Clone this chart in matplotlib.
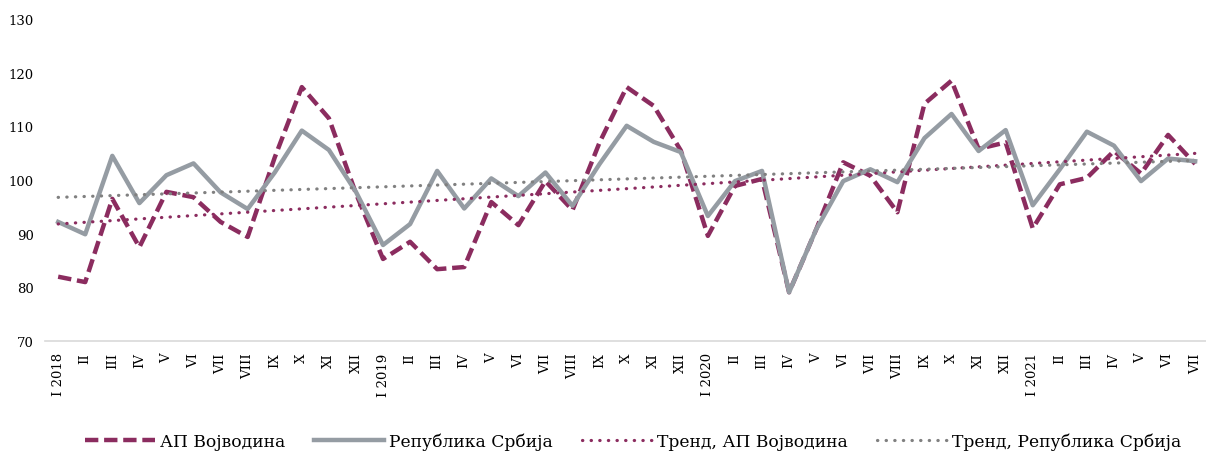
import numpy as np
import matplotlib
matplotlib.use("Agg")
import matplotlib.pyplot as plt

plt.rcParams['font.family'] = ['DejaVu Serif']

months = ["I", "II", "III", "IV", "V", "VI", "VII", "VIII", "IX", "X", "XI", "XII"]
labels = []
for year in [2018, 2019, 2020]:
    labels += [f"I {year}"] + months[1:]
labels += ["I 2021"] + months[1:7]

vojvodina = [82.0, 81.0, 96.5, 87.5, 97.8, 96.8, 92.2, 89.4, 104.2, 117.3, 111.5, 97.5,
             85.3, 88.5, 83.4, 83.8, 95.9, 91.6, 99.8, 94.4, 107.0, 117.3, 113.8, 105.5,
             89.6, 98.9, 100.2, 79.1, 90.8, 103.3, 100.8, 94.0, 114.2, 118.5, 105.8, 107.0,
             91.0, 99.2, 100.4, 105.4, 101.2, 108.4, 103.0]
srbija = [92.2, 89.9, 104.5, 95.7, 100.9, 103.1, 97.7, 94.6, 101.4, 109.2, 105.6, 97.8,
          87.9, 91.8, 101.7, 94.7, 100.3, 97.0, 101.4, 95.2, 103.0, 110.1, 107.1, 105.2,
          93.3, 99.8, 101.7, 79.1, 90.8, 99.8, 102.0, 99.6, 107.8, 112.3, 105.4, 109.3,
          95.3, 102.0, 109.0, 106.4, 99.8, 104.0, 103.5]

x = np.arange(len(labels))
# linear trend lines, as in the source spreadsheet
trend_v = np.polyval(np.polyfit(x, vojvodina, 1), x)
trend_s = np.polyval(np.polyfit(x, srbija, 1), x)

c_v = "#8B2C5F"
c_s = "#959CA3"
c_ts = "#808080"

fig = plt.figure(figsize=(12.06, 4.52), dpi=100)
ax = fig.add_axes([0.037, 0.243, 0.963, 0.713])

ax.plot(x, vojvodina, color=c_v, lw=3.2, ls=(0, (3.0, 1.3)), label="АП Војводина")
ax.plot(x, srbija, color=c_s, lw=3.2, label="Република Србија")
ax.plot(x, trend_v, color=c_v, lw=2.3, ls=(0, (0.1, 2.6)), dash_capstyle="round",
        label="Тренд, АП Војводина")
ax.plot(x, trend_s, color=c_ts, lw=2.3, ls=(0, (0.1, 2.6)), dash_capstyle="round",
        label="Тренд, Република Србија")

ax.set_xlim(-0.5, 42.4)
ax.set_ylim(70, 130)
ax.set_yticks(range(70, 131, 10))
ax.set_xticks(x)
ax.set_xticklabels(labels, rotation=90, fontsize=9.5)
ax.tick_params(axis="both", length=0, labelsize=9.5)
ax.tick_params(axis="x", pad=8)
ax.tick_params(axis="y", pad=8)
for s in ["top", "right", "left"]:
    ax.spines[s].set_visible(False)
ax.spines["bottom"].set_color("#D9D9D9")
ax.spines["bottom"].set_linewidth(1.2)

fig.legend(loc="center", bbox_to_anchor=(0.525, 0.022), ncol=4, frameon=False,
           fontsize=12.3, handlelength=4.1, handletextpad=0.3, columnspacing=1.7)

fig.savefig("out.png", dpi=100)
